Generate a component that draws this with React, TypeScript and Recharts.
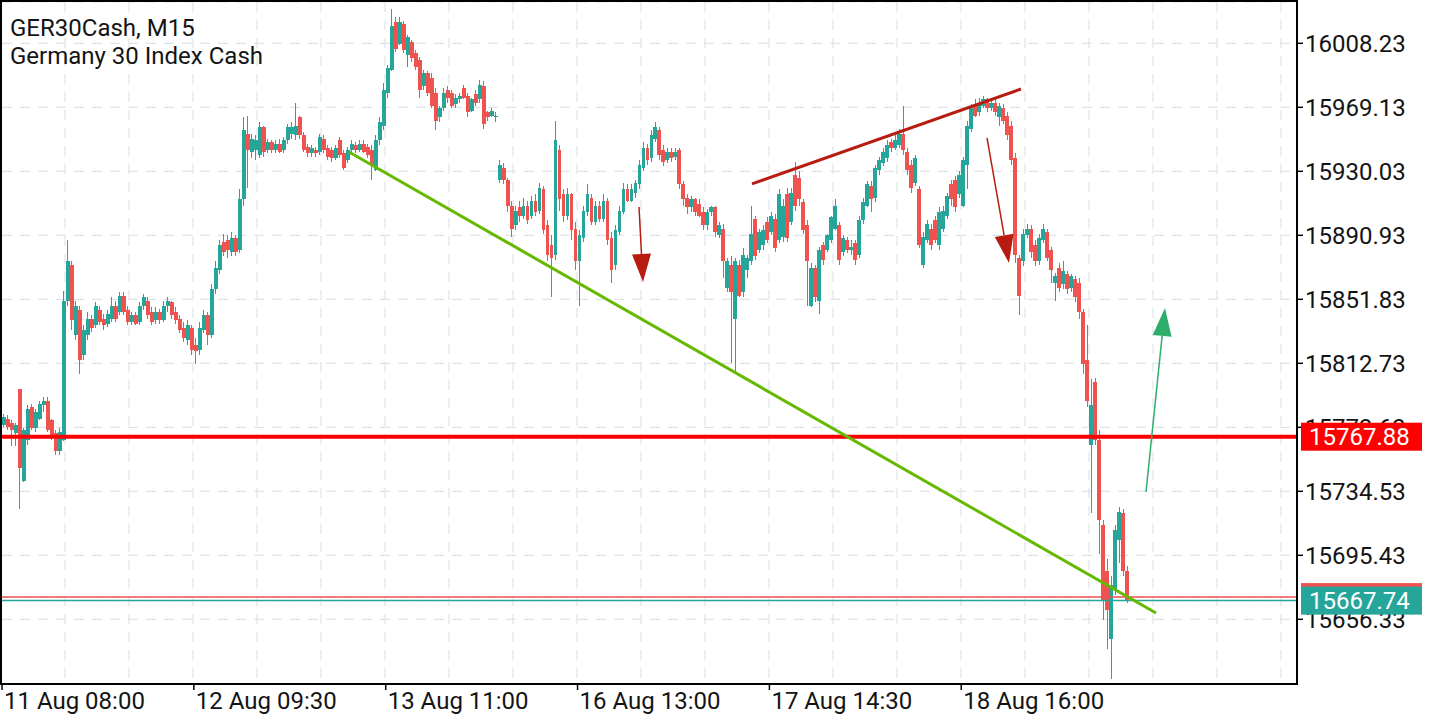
import React from 'react';
import { ComposedChart, Bar, XAxis, YAxis, CartesianGrid, ReferenceLine } from 'recharts';

const symbolTitle = 'GER30Cash, M15';
const symbolName = 'Germany 30 Index Cash';

const opens = [
15775,15779,15776,15770,15797,15741,15766,15786,15773,15779,
15787,15790,15778,15770,15759,15766,15851,15873,15830,15845,
15818,15830,15840,15836,15845,15840,15837,15840,15848,15844,
15854,15845,15838,15842,15838,15848,15851,15844,15839,15844,
15839,15848,15850,15844,15840,15834,15827,15834,15824,15821,
15833,15842,15830,15858,15870,15887,15888,15881,15889,15882,
15913,15953,15942,15943,15940,15957,15943,15948,15943,15947,
15943,15949,15953,15952,15963,15952,15945,15941,15943,15942,
15950,15944,15943,15938,15949,15941,15937,15943,15946,15943,
15947,15945,15943,15931,15949,15958,15978,15992,16021,16008,
16020,16001,16009,16002,15998,15982,15990,15987,15978,15963,
15969,15980,15978,15971,15974,15981,15976,15967,15977,15974,
15982,15966,15964,15963,15925,15932,15925,15909,15897,15908,
15903,15909,15903,15912,15906,15919,15897,15885,15879,15943,
15916,15903,15916,15895,15875,15889,15905,15914,15899,15909,
15901,15912,15889,15873,15893,15905,15919,15912,15917,15922,
15932,15944,15938,15950,15955,15943,15937,15942,15939,15943,
15922,15914,15908,15913,15910,15905,15897,15905,15908,15891,
15895,15859,15873,15840,15873,15856,15870,15875,15901,15882,
15885,15899,15893,15901,15888,15890,15916,15899,15928,15926,
15911,15897,15848,15871,15851,15885,15882,15888,15895,15897,
15881,15888,15882,15886,15879,15900,15909,15921,15914,15931,
15935,15938,15948,15944,15946,15953,15942,15934,15923,15919,
15873,15888,15895,15900,15885,15895,15903,15922,15925,15916,
15909,15934,15956,15970,15966,15970,15974,15969,15972,15963,
15969,15964,15958,15938,15877,15875,15891,15895,15885,15875,
15888,15893,15882,15862,15871,15861,15867,15859,15864,15862,
15844,15815,15763,15801,15766,15714,15686,15644,15674,15705,
15721,15686,
];

const highs = [
15782,15781,15778,15776,15797,15773,15787,15788,15785,15790,
15792,15792,15779,15772,15773,15857,15888,15875,15851,15848,
15836,15844,15842,15850,15848,15843,15845,15853,15851,15856,
15856,15848,15844,15844,15850,15855,15853,15847,15847,15846,
15851,15853,15851,15847,15842,15838,15839,15836,15828,15838,
15845,15844,15861,15875,15888,15892,15891,15893,15891,15919,
15963,15964,15953,15952,15960,15958,15950,15949,15949,15950,
15951,15959,15960,15972,15964,15954,15947,15946,15945,15953,
15952,15946,15945,15946,15951,15943,15945,15949,15948,15949,
15949,15947,15946,15952,15963,15984,15995,16029,16024,16024,
16022,16013,16010,16004,16000,15992,15991,15990,15981,15970,
15981,15982,15980,15977,15978,15983,15978,15975,15980,15986,
15985,15967,15969,15966,15937,15935,15926,15912,15909,15912,
15914,15912,15915,15916,15923,15921,15900,15891,15961,15946,
15919,15920,15917,15899,15894,15909,15922,15916,15912,15912,
15916,15914,15893,15897,15909,15923,15922,15922,15925,15937,
15948,15947,15955,15960,15957,15946,15944,15944,15944,15944,
15924,15916,15915,15914,15913,15908,15907,15909,15909,15899,
15898,15877,15878,15877,15876,15883,15879,15909,15903,15895,
15897,15902,15905,15904,15919,15913,15920,15920,15936,15930,
15913,15900,15874,15873,15884,15887,15892,15903,15913,15899,
15891,15890,15888,15888,15903,15914,15924,15924,15934,15939,
15944,15949,15950,15952,15956,15970,15944,15937,15940,15921,
15893,15900,15898,15903,15908,15909,15917,15925,15927,15930,
15939,15961,15971,15974,15975,15976,15975,15974,15974,15972,
15971,15966,15961,15941,15879,15895,15898,15897,15888,15892,
15898,15895,15884,15868,15874,15875,15869,15867,15866,15865,
15846,15836,15803,15804,15772,15717,15693,15683,15714,15725,
15724,15689,
];

const lows = [
15774,15772,15762,15762,15724,15740,15763,15772,15771,15778,
15783,15771,15766,15757,15757,15765,15848,15833,15827,15806,
15815,15827,15832,15834,15836,15833,15835,15838,15838,15842,
15842,15836,15836,15836,15836,15845,15840,15836,15837,15837,
15838,15844,15840,15837,15831,15826,15824,15818,15812,15818,
15831,15824,15828,15855,15867,15878,15877,15878,15878,15880,
15909,15920,15938,15937,15938,15939,15941,15941,15941,15941,
15941,15947,15950,15949,15950,15942,15939,15939,15939,15940,
15941,15937,15936,15937,15938,15931,15935,15941,15941,15942,
15941,15938,15925,15930,15946,15955,15975,15991,16003,16007,
16002,15994,15997,15992,15975,15980,15976,15969,15955,15960,
15967,15972,15969,15969,15972,15974,15963,15966,15970,15972,
15956,15961,15963,15960,15923,15922,15905,15890,15894,15899,
15901,15898,15901,15903,15904,15892,15875,15853,15876,15906,
15899,15900,15888,15870,15848,15887,15903,15897,15897,15899,
15899,15885,15862,15870,15891,15904,15911,15911,15914,15919,
15930,15934,15936,15948,15937,15933,15935,15936,15937,15919,
15909,15904,15905,15903,15902,15894,15894,15903,15890,15889,
15865,15856,15813,15807,15853,15853,15865,15873,15876,15880,
15882,15886,15891,15881,15886,15887,15887,15897,15906,15909,
15892,15848,15847,15850,15843,15873,15881,15886,15894,15873,
15878,15880,15879,15873,15877,15898,15908,15905,15911,15928,
15933,15936,15942,15943,15944,15940,15928,15917,15921,15883,
15871,15886,15882,15886,15882,15893,15901,15909,15905,15914,
15908,15919,15954,15963,15964,15969,15966,15967,15964,15958,
15959,15949,15934,15874,15842,15872,15889,15877,15872,15873,
15886,15875,15862,15851,15856,15858,15855,15856,15850,15840,
15806,15786,15721,15763,15696,15656,15638,15620,15671,15691,
15683,15666,
];

const closes = [
15780,15774,15772,15775,15749,15772,15785,15773,15783,15788,
15790,15772,15769,15759,15771,15851,15875,15839,15848,15815,
15833,15840,15834,15848,15838,15836,15843,15848,15840,15854,
15844,15838,15842,15837,15848,15853,15842,15838,15844,15839,
15848,15851,15842,15839,15833,15828,15836,15821,15820,15834,
15842,15830,15858,15871,15885,15881,15882,15889,15881,15913,
15955,15943,15950,15949,15957,15942,15948,15943,15947,15942,
15949,15957,15957,15958,15952,15943,15941,15944,15941,15951,
15943,15939,15938,15944,15940,15932,15943,15947,15943,15947,
15942,15940,15934,15949,15960,15980,15993,16019,16005,16021,
16004,16012,15999,15994,15980,15990,15978,15970,15961,15969,
15978,15975,15970,15975,15976,15975,15966,15974,15972,15983,
15959,15963,15967,15964,15934,15925,15909,15895,15906,15903,
15909,15900,15912,15905,15920,15894,15879,15877,15949,15913,
15903,15916,15894,15875,15891,15906,15916,15899,15909,15901,
15912,15888,15870,15894,15906,15919,15912,15919,15923,15934,
15944,15937,15952,15957,15940,15936,15942,15938,15942,15922,
15913,15908,15913,15905,15903,15897,15905,15908,15893,15897,
15875,15875,15856,15875,15854,15879,15877,15892,15878,15893,
15894,15888,15903,15883,15916,15909,15889,15917,15909,15913,
15894,15875,15871,15853,15882,15876,15891,15902,15909,15876,
15889,15882,15884,15876,15900,15911,15922,15913,15932,15937,
15942,15946,15944,15949,15953,15943,15931,15920,15938,15885,
15890,15898,15885,15888,15905,15906,15915,15913,15908,15928,
15937,15958,15969,15964,15972,15974,15969,15972,15966,15970,
15961,15952,15937,15879,15854,15892,15895,15881,15875,15889,
15895,15877,15870,15866,15859,15869,15858,15866,15853,15844,
15812,15790,15787,15766,15717,15668,15662,15677,15711,15722,
15686,15667.74,
];

const slotCount = 324;
const tickSlots = [0, 48, 96, 144, 192, 240];
const tickLabels = ['11 Aug 08:00', '12 Aug 09:30', '13 Aug 11:00', '16 Aug 13:00', '17 Aug 14:30', '18 Aug 16:00'];
const priceTicks = [16008.23, 15969.13, 15930.03, 15890.93, 15851.83, 15812.73, 15773.63, 15734.53, 15695.43, 15656.33];
const priceDomain = [15616.8, 16033.46];

const supportLevel = 15767.88;
const askPrice = 15669.9;
const bidPrice = 15667.74;
const tagValues = [supportLevel, askPrice, bidPrice];
const tagColors = ['#ff0000', '#ef5350', '#26a69a'];

// annotation endpoints: x in M15-bar units, y in price
const trendGreen = [{ x: 173.5, y: 15941.8 }, { x: 577, y: 15660.2 }];
const trendRed = [{ x: 375, y: 15922.3 }, { x: 509.5, y: 15980.3 }];
const arrowDown1 = [{ x: 318.5, y: 15908.2 }, { x: 320.5, y: 15862.4 }];
const arrowDown2 = [{ x: 492.5, y: 15950.4 }, { x: 503.5, y: 15874.0 }];
const arrowUp = [{ x: 572, y: 15734.1 }, { x: 581.5, y: 15846.5 }];

const UP = '#26a69a';
const DOWN = '#ef5350';
const FONT = 'Roboto, "Noto Sans", sans-serif';

const rows = Array.from({ length: slotCount }, (_, i) =>
  i < opens.length
    ? { i, t: 2 * i + 1, open: opens[i], high: highs[i], low: lows[i], close: closes[i], range: [lows[i], highs[i]] }
    : { i, t: 2 * i + 1, range: null }
);

const gridX = Array.from({ length: 20 }, (_, k) => 65 + 64 * k);
const allYTicks = [...priceTicks, ...tagValues];

const Candle = (props: any) => {
  const { x, y, width, height, payload } = props;
  if (!payload || payload.high == null || !isFinite(y) || !isFinite(height)) return null;
  const { open, close, high, low } = payload;
  const color = close >= open ? UP : DOWN;
  const span = high - low;
  const k = span > 0 ? height / span : 0;
  const top = y + (high - Math.max(open, close)) * k;
  const bot = y + (high - Math.min(open, close)) * k;
  const cx = Math.floor(x + width / 2) + 0.5;
  return (
    <g shapeRendering="crispEdges">
      <line x1={cx} x2={cx} y1={y} y2={y + Math.max(height, 1)} stroke={color} strokeWidth={1} />
      <rect x={x} y={top} width={width} height={Math.max(1, bot - top)} fill={color} />
    </g>
  );
};

const XTick = (props: any) => {
  const { x, y, payload } = props;
  const idx = tickSlots.indexOf(payload.value);
  const lx = x - 2;
  return (
    <g>
      <line x1={lx} x2={lx} y1={y - 8} y2={y - 2} stroke="#000" strokeWidth={1.5} />
      <text x={lx + 2} y={y} dy="0.71em" textAnchor="start" fontSize={24} fill="#141414" fontFamily={FONT}>
        {idx >= 0 ? tickLabels[idx] : ''}
      </text>
    </g>
  );
};

const YTick = (props: any) => {
  const { x, y, payload } = props;
  const v = Number(payload.value);
  const tagIdx = tagValues.indexOf(v);
  if (tagIdx >= 0) {
    return (
      <g>
        <rect x={x - 4} y={y - 14} width={121} height={28} fill={tagColors[tagIdx]} />
        <text x={x + 4} y={y + 8.5} fontSize={24} fill="#ffffff" fontFamily={FONT}>
          {v.toFixed(2)}
        </text>
      </g>
    );
  }
  return (
    <g>
      <line x1={x - 8} x2={x - 2} y1={y} y2={y} stroke="#000" strokeWidth={1.5} />
      <text x={x} y={y} dy="0.355em" fontSize={24} fill="#141414" fontFamily={FONT}>
        {v.toFixed(2)}
      </text>
    </g>
  );
};

const makeArrow = (color: string) => (props: any) => {
  const { x1, y1, x2, y2 } = props;
  const dx = x2 - x1;
  const dy = y2 - y1;
  const len = Math.hypot(dx, dy) || 1;
  const ux = dx / len;
  const uy = dy / len;
  const L = 28;
  const W = 9.5;
  const bx = x2 - ux * L;
  const by = y2 - uy * L;
  const px = -uy;
  const py = ux;
  return (
    <g>
      <line x1={x1} y1={y1} x2={bx} y2={by} stroke={color} strokeWidth={1.5} />
      <polygon points={`${x2},${y2} ${bx + px * W},${by + py * W} ${bx - px * W},${by - py * W}`} fill={color} />
    </g>
  );
};

const RedArrow = makeArrow('#b81c10');
const GreenArrow = makeArrow('#2eae6c');

export default function App() {
  return (
    <div style={{ position: 'absolute', left: 0, top: 0, width: 1440, height: 720, background: '#ffffff', fontFamily: FONT }}>
      <ComposedChart width={1440} height={720} data={rows} margin={{ top: 2, right: 0, bottom: 0, left: 2 }}>
        <CartesianGrid stroke="#dfe4ea" strokeDasharray="10 8" strokeWidth={1.2} verticalPoints={gridX} />
        <XAxis
          dataKey="i"
          type="category"
          ticks={tickSlots}
          interval={0}
          height={36}
          axisLine={false}
          tickLine={false}
          tickSize={6}
          tickMargin={2}
          tick={<XTick />}
        />
        <XAxis xAxisId="n" dataKey="t" type="number" domain={[0, 647.5]} allowDataOverflow hide />
        <YAxis
          orientation="right"
          type="number"
          domain={priceDomain}
          ticks={allYTicks}
          interval={0}
          allowDataOverflow
          width={143}
          axisLine={false}
          tickLine={false}
          tickSize={6}
          tickMargin={2}
          tick={<YTick />}
        />
        <Bar dataKey="range" shape={<Candle />} barSize={3.9} isAnimationActive={false} />
        <ReferenceLine y={supportLevel} stroke="#ff0000" strokeWidth={4} />
        <ReferenceLine y={askPrice} stroke={DOWN} strokeWidth={1.5} />
        <ReferenceLine y={bidPrice} stroke={UP} strokeWidth={1.5} />
        <ReferenceLine xAxisId="n" segment={trendGreen} stroke="#66b800" strokeWidth={3} />
        <ReferenceLine xAxisId="n" segment={trendRed} stroke="#b81c10" strokeWidth={3} />
        <ReferenceLine xAxisId="n" segment={arrowDown1} stroke="#b81c10" shape={RedArrow} />
        <ReferenceLine xAxisId="n" segment={arrowDown2} stroke="#b81c10" shape={RedArrow} />
        <ReferenceLine xAxisId="n" segment={arrowUp} stroke="#2eae6c" shape={GreenArrow} />
      </ComposedChart>
      <div
        style={{
          position: 'absolute', left: 0, top: 0, width: 1298, height: 685,
          border: '2px solid #000', boxSizing: 'border-box', pointerEvents: 'none',
        }}
      />
      <div
        style={{
          position: 'absolute', left: 10, top: 14, fontSize: 24, lineHeight: '28px',
          color: '#141414', fontFamily: FONT, whiteSpace: 'pre',
        }}
      >
        <div>{symbolTitle}</div>
        <div>{symbolName}</div>
      </div>
    </div>
  );
}
